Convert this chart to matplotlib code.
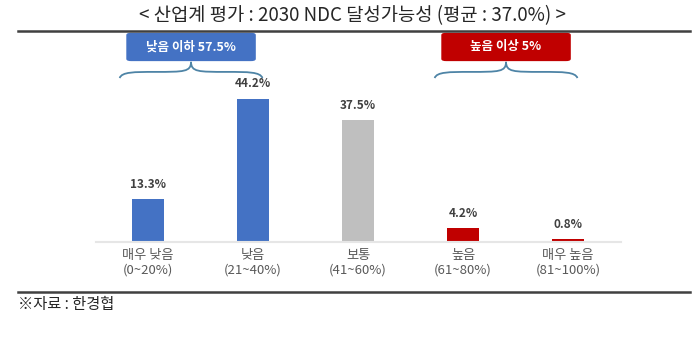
import numpy as np
import matplotlib
matplotlib.use('Agg')
import matplotlib.pyplot as plt
from matplotlib.path import Path
from matplotlib.patches import PathPatch, FancyBboxPatch
from matplotlib.lines import Line2D

plt.rcParams['font.family'] = ['Noto Sans CJK KR', 'DejaVu Sans']

# data
categories = ['매우 낮음\n(0~20%)', '낮음\n(21~40%)', '보통\n(41~60%)', '높음\n(61~80%)', '매우 높음\n(81~100%)']
values = [13.3, 44.2, 37.5, 4.2, 0.8]
bar_colors = ['#4472C4', '#4472C4', '#BFBFBF', '#C00000', '#C00000']
group_labels = ['낮음 이하 57.5%', '높음 이상 5%']
group_spans = [(0, 1), (3, 4)]
group_colors = ['#4472C4', '#C00000']
title = '< 산업계 평가 : 2030 NDC 달성가능성 (평균 : 37.0%) >'
source = '※자료 : 한경협'

W, H = 700, 356
fig = plt.figure(figsize=(W / 100, H / 100), dpi=100)

# axes placed in pixel terms: x from 95.5 to 620.5, y from 30 to 242
ax = fig.add_axes([95.5 / W, (H - 242) / H, 525 / W, 212 / H])
x = np.arange(len(values))
ax.bar(x, values, width=0.31, color=bar_colors, zorder=2)
ax.set_xlim(-0.5, 4.5)
ax.set_ylim(0, 212 / 3.24)

for xi, v in zip(x, values):
    ax.annotate(f'{v}%', (xi, v), xytext=(0, 6), textcoords='offset points',
                ha='center', va='bottom', fontsize=8.5, fontweight='bold', color='#404040')

for s in ['top', 'right', 'left']:
    ax.spines[s].set_visible(False)
ax.spines['bottom'].set_color('#E6E6E6')
ax.spines['bottom'].set_linewidth(1.5)
ax.set_yticks([])
ax.set_xticks(x)
ax.set_xticklabels(categories, fontsize=9.5, color='#595959', linespacing=1.2,
                   fontweight='medium')
ax.tick_params(axis='x', length=0, pad=5)

# brackets and group boxes
y0, y1, yp = 50.6, 52.5, 55.6
for (a, b), lab, col in zip(group_spans, group_labels, group_colors):
    xc = (a + b) / 2 - 0.09
    half = 0.68
    for sgn in (-1, 1):
        xe = xc + sgn * half
        h = xc - xe
        q = (xe + xc) / 2
        verts = [(xe, y0), (xe + 0.03 * h, y1), (q - 0.3 * h, y1), (q, y1),
                 (q + 0.4 * h, y1), (xc, y1), (xc, yp)]
        codes = [Path.MOVETO] + [Path.CURVE4] * 6
        ax.add_patch(PathPatch(Path(verts, codes), fill=False, edgecolor='#4E84A6',
                               lw=1.3, clip_on=False))
    bw = 0.61
    ax.add_patch(FancyBboxPatch((xc - bw + 0.03, 56.4), 2 * bw - 0.06, 7.6,
                                boxstyle='round,pad=0.03,rounding_size=0.04',
                                mutation_aspect=12,
                                facecolor=col, edgecolor=col, clip_on=False))
    ax.text(xc, 60.2, lab, ha='center', va='center', fontsize=9,
            fontweight='bold', color='white')

# title, rules and source note
fig.text(0.503, 1 - 16 / H, title, ha='center', va='center', fontsize=13.5, color='#262626')
fig.add_artist(Line2D([18 / W, 690 / W], [1 - 31 / H] * 2, color='#404040', lw=1.8))
fig.add_artist(Line2D([18 / W, 690 / W], [1 - 292 / H] * 2, color='#404040', lw=1.8))
fig.text(18 / W, 1 - 305 / H, source, ha='left', va='center', fontsize=11, color='#262626')

fig.savefig('out.png', dpi=100)
